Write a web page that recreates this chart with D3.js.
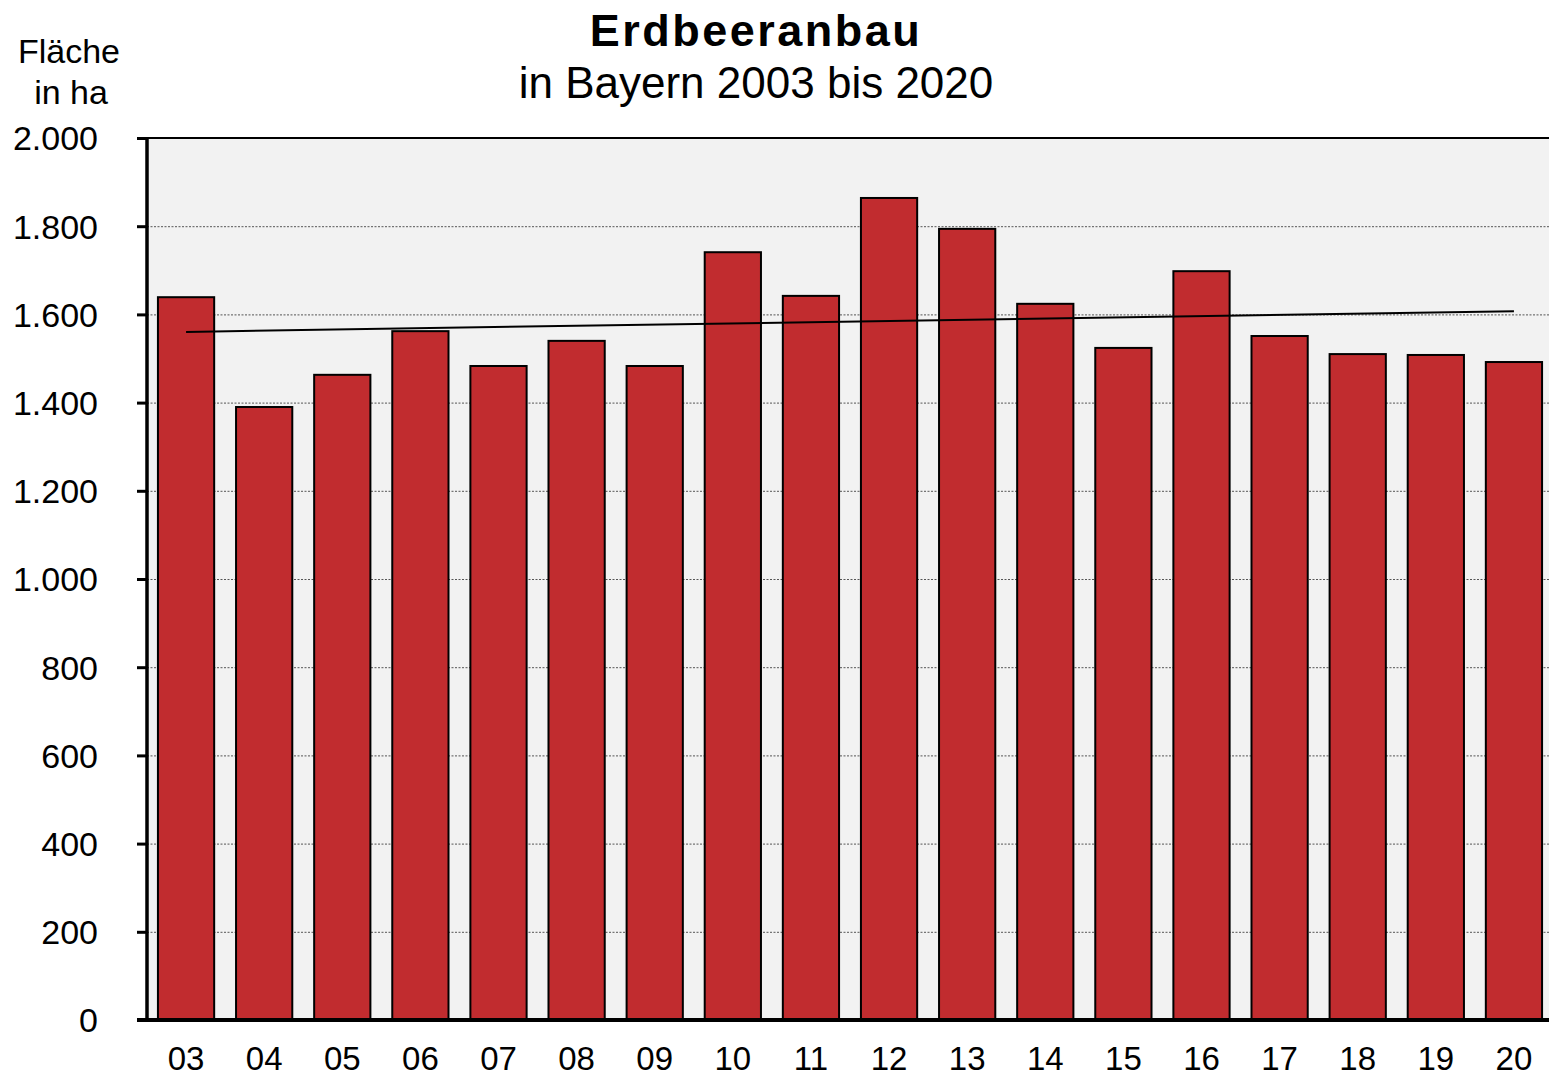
<!DOCTYPE html>
<html>
<head>
<meta charset="utf-8">
<script src="https://cdn.jsdelivr.net/npm/d3@7"></script>
<style>
  body { margin: 0; background: #fff; }
  text { font-family: "Liberation Sans", Arial, sans-serif; fill: #000; }
</style>
</head>
<body>
<svg id="chart" width="1549" height="1075"></svg>
<script>
var years = ["03","04","05","06","07","08","09","10","11","12","13","14","15","16","17","18","19","20"]
var flaeche = [1639,1390,1463,1562,1483,1540,1483,1741,1642,1864,1794,1624,1524,1698,1551,1510,1508,1492]
var yTicks = [0,200,400,600,800,1000,1200,1400,1600,1800,2000]

var svg = d3.select('#chart')
var pLeft = 147, pRight = 1553, pTop = 138, pBottom = 1020

var x = d3.scaleBand().domain(years).range([pLeft, pRight]).paddingInner(0.28).paddingOuter(0.14)
var y = d3.scaleLinear().domain([0, 2000]).range([pBottom, pTop])

// plot background
svg.append("rect").attr("x", pLeft).attr("y", pTop).attr("width", pRight - pLeft).attr("height", pBottom - pTop)
    .style("fill", "#f2f2f2")

// dashed grid lines
svg.append("g").selectAll("line").data(yTicks.filter(function(d) { return d > 0 && d < 2000 }))
  .enter().append("line")
    .attr("x1", pLeft).attr("x2", pRight)
    .attr("y1", function(d) { return y(d) + 0.5 }).attr("y2", function(d) { return y(d) + 0.5 })
    .style("stroke", "#555").style("stroke-width", 1).style("stroke-dasharray", "2,1.5")

// top border
svg.append("line").attr("x1", pLeft).attr("x2", pRight).attr("y1", pTop).attr("y2", pTop)
    .style("stroke", "#000").style("stroke-width", 2)

// bars
svg.append("g").selectAll("rect").data(flaeche).enter().append("rect")
    .attr("x", function(d, i) { return x(years[i]) })
    .attr("y", function(d) { return y(d) })
    .attr("width", x.bandwidth())
    .attr("height", function(d) { return pBottom - y(d) })
    .style("fill", "#c12c2f").style("stroke", "#000").style("stroke-width", 2)

// linear trend line
var n = flaeche.length
var mx = d3.mean(flaeche, function(d, i) { return i })
var my = d3.mean(flaeche)
var sxy = d3.sum(flaeche, function(d, i) { return (i - mx) * (d - my) })
var sxx = d3.sum(flaeche, function(d, i) { return (i - mx) * (i - mx) })
var slope = sxy / sxx
var half = x.bandwidth() / 2
svg.append("line")
    .attr("x1", x(years[0]) + half).attr("x2", x(years[n - 1]) + half)
    .attr("y1", y(my - slope * mx)).attr("y2", y(my + slope * (n - 1 - mx)))
    .style("stroke", "#000").style("stroke-width", 2)

// y axis
var yAxis = svg.append("g").attr("transform", "translate(" + pLeft + ",0)")
    .call(d3.axisLeft(y).tickValues(yTicks).tickSize(10).tickPadding(39)
      .tickFormat(function(d) { return d3.format(",")(d).replace(",", ".") }))
yAxis.select(".domain").remove()
yAxis.selectAll(".tick line").style("stroke", "#000").style("stroke-width", 3)
yAxis.selectAll("text").style("font-size", "34px").attr("dy", "0.35em")
svg.append("line").attr("x1", pLeft).attr("x2", pLeft).attr("y1", pTop - 1).attr("y2", pBottom + 1)
    .style("stroke", "#000").style("stroke-width", 3.5)

// x axis
svg.append("line").attr("x1", pLeft - 10).attr("x2", pRight).attr("y1", pBottom).attr("y2", pBottom)
    .style("stroke", "#000").style("stroke-width", 4)
var xAxis = svg.append("g").attr("transform", "translate(0," + pBottom + ")")
    .call(d3.axisBottom(x).tickSize(0).tickPadding(27))
xAxis.select(".domain").remove()
xAxis.selectAll("text").style("font-size", "33px")

// titles
svg.append("text").attr("x", 756).attr("y", 46).attr("text-anchor", "middle")
    .style("font-size", "45px").style("font-weight", "bold").style("letter-spacing", "2.5px").text("Erdbeeranbau")
svg.append("text").attr("x", 756).attr("y", 98).attr("text-anchor", "middle")
    .style("font-size", "44px").text("in Bayern 2003 bis 2020")
svg.append("text").attr("x", 69).attr("y", 63).attr("text-anchor", "middle")
    .style("font-size", "34px").text("Fläche")
svg.append("text").attr("x", 71).attr("y", 104).attr("text-anchor", "middle")
    .style("font-size", "34px").text("in ha")
</script>
</body>
</html>
